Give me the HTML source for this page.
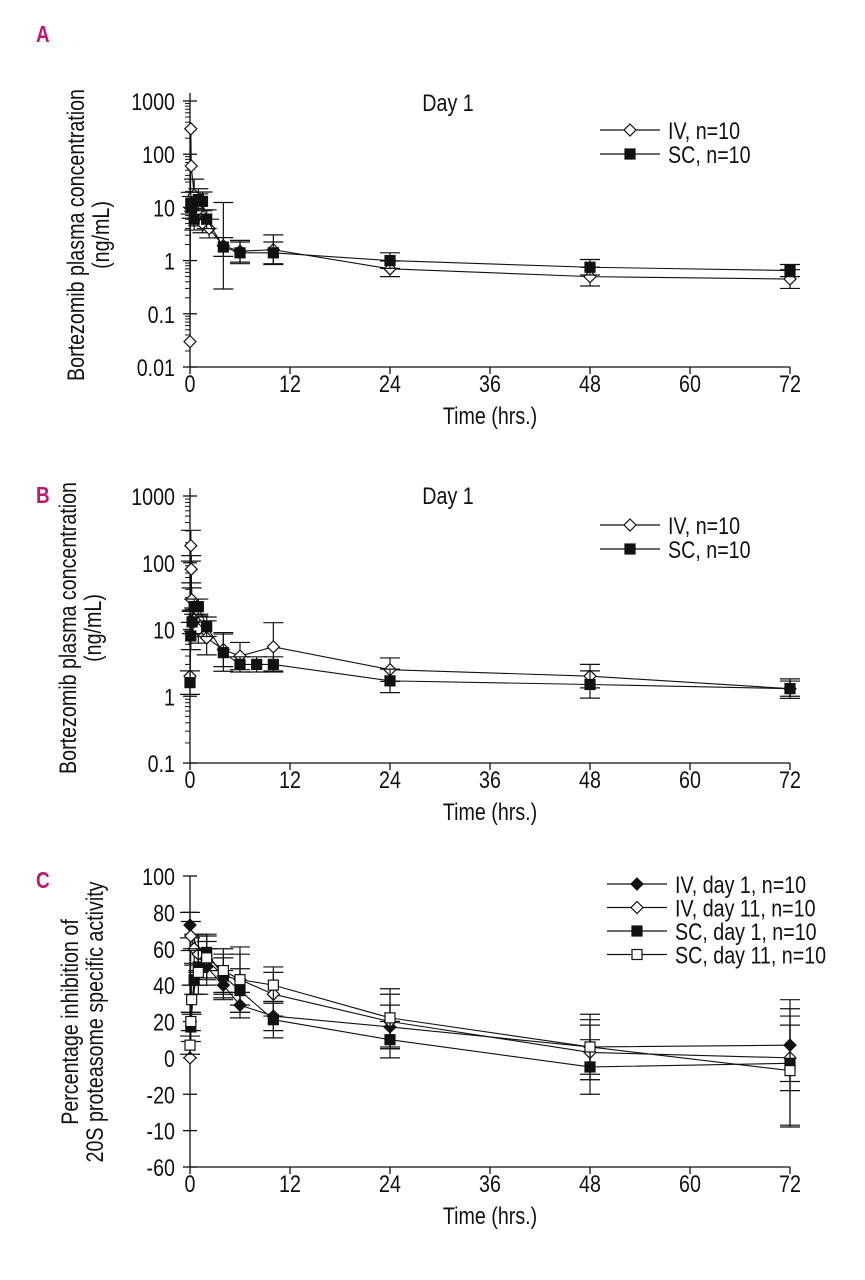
<!DOCTYPE html>
<html><head><meta charset="utf-8">
<style>
body{margin:0;background:#fff;}
svg{display:block;font-family:"Liberation Sans Narrow","Liberation Sans",sans-serif;}
</style></head>
<body>
<svg id="fig" width="865" height="1280" viewBox="0 0 865 1280" xmlns="http://www.w3.org/2000/svg"></svg>
<script>
// ---- Panel A data ----
const aIvT   = [0, 0.1, 0.15, 0.5, 1, 1.5, 2.3, 4, 6, 10, 24, 48, 72];
const aIvV   = [0.03, 300, 60, 17, 9, 5, 4, 1.9, 1.5, 1.6, 0.7, 0.5, 0.45];
const aIvE   = [0, 0, 0, 2, 2, 1.5, 1.5, 6.5, 1.6, 1.9, 1.4, 1.5, 1.5];
const aScT   = [0.1, 0.2, 0.5, 1, 1.5, 2, 4, 6, 10, 24, 48, 72];
const aScV   = [12, 10, 6, 14, 13, 6, 1.8, 1.4, 1.4, 1.0, 0.75, 0.65];
const aScE   = [1.6, 1.6, 1.6, 1.6, 1.5, 1.5, 1.5, 1.6, 1.6, 1.4, 1.4, 1.3];
// ---- Panel B data ----
const bIvT = [0, 0.1, 0.15, 0.2, 0.5, 1, 2, 4, 6, 10, 24, 48, 72];
const bIvV = [2, 180, 80, 28, 14, 10, 7.5, 5, 4, 5.5, 2.5, 2, 1.3];
const bIvE = [0, 1.7, 1.6, 1.5, 1.5, 1.6, 1.8, 1.8, 1.6, 2.3, 1.5, 1.5, 1.3];
const bScT = [0, 0.1, 0.25, 0.5, 1, 2, 4, 6, 8, 10, 24, 48, 72];
const bScV = [1.6, 8, 13, 22, 22, 11, 4.5, 3, 3, 3, 1.7, 1.5, 1.3];
const bScE = [1.5, 1.6, 1.5, 1.3, 1.3, 1.4, 1.9, 1.3, 1.3, 1.3, 1.5, 1.6, 1.4];
// ---- Panel C data ----
const cIvd1T  = [0, 1, 2, 4, 6, 10, 24, 48, 72];
const cIvd1V  = [73, 58, 50, 40, 29, 23, 17, 6, 7];
const cIvd1E  = [7, 10, 10, 8, 7, 8, 12, 15, 20];
const cIvd11T = [0, 0.1, 0.5, 1, 2, 4, 6, 10, 24, 48, 72];
const cIvd11V = [0, 67, 60, 57, 54, 45, 43, 35, 20, 3, 0];
const cIvd11E = [0, 8, 8, 10, 10, 12, 18, 12, 15, 15, 18];
const cScd1T  = [0.1, 0.5, 1, 2, 4, 6, 10, 24, 48, 72];
const cScd1V  = [17, 43, 50, 58, 45, 37, 21, 10, -5, -3];
const cScd1E  = [8, 8, 10, 10, 10, 12, 10, 10, 15, 35];
const cScd11T = [0, 0.1, 0.2, 1, 2, 4, 6, 10, 24, 48, 72];
const cScd11V = [7, 20, 32, 47, 55, 48, 43, 40, 22, 6, -7];
const cScd11E = [5, 5, 8, 12, 12, 12, 14, 10, 16, 18, 30];
const xTicks = [0, 12, 24, 36, 48, 60, 72];
const aYTicks = [0.01, 0.1, 1, 10, 100, 1000];
const bYTicks = [0.1, 1, 10, 100, 1000];
const cYTicks = [100, 80, 60, 40, 20, 0, -20, -40, -60];
const cYLabels = ["100", "80", "60", "40", "20", "0", "-20", "-10", "-60"];

const NS = "http://www.w3.org/2000/svg";
const svg = document.getElementById('fig');
const SX = 0.82;
function el(tag, attrs, parent) {
  const e = document.createElementNS(NS, tag);
  for (const k in attrs) e.setAttribute(k, attrs[k]);
  (parent || svg).appendChild(e);
  return e;
}
function txt(s, x, y, size, anchor, parent, fill) {
  const t = el('text', {x: 0, y: 0, transform: 'translate(' + x + ',' + y + ') scale(' + SX + ',1)', 'font-size': size, 'text-anchor': anchor || 'start', fill: fill || '#111'}, parent);
  t.textContent = s;
  return t;
}
const X0 = 190, X1 = 790;
const xs = t => X0 + (t / 72) * (X1 - X0);

function panel(name, letter, letterY, top, bottom, yFn, ticks, labels, logMinor, titleLines, titleCx, titleCy) {
  const g = el('g', {});
  
  
  const L = txt(letter, 36, letterY, 23, 'start', g, '#c0166b');
  L.setAttribute('font-weight', 'bold');
  
  
  const ax = el('g', {stroke: '#111', 'stroke-width': 1.3}, g);
  
  
  el('line', {x1: X0, y1: top, x2: X0, y2: bottom}, ax);
  el('line', {x1: X0, y1: bottom, x2: X1, y2: bottom}, ax);
  xTicks.forEach(t => {
    el('line', {x1: xs(t), y1: bottom, x2: xs(t), y2: bottom + 7}, ax);
    const lb = txt(String(t), xs(t), bottom + 25, 24, 'middle', g);
    
    
  });
  ticks.forEach((v, i) => {
    const y = yFn(v);
    el('line', {x1: X0 - 7, y1: y, x2: X0 + 7, y2: y}, ax);
    const lb = txt(labels[i], X0 - 15, y + 9, 24, 'end', g);
    
    
    if (logMinor && i < ticks.length - 1) {
      for (let m = 2; m < 10; m++) {
        const yy = yFn(v * m);
        el('line', {x1: X0 - 5, y1: yy, x2: X0, y2: yy, 'stroke-width': 1}, ax);
      }
    }
  });
  const xt = txt('Time (hrs.)', 490, bottom + 57, 24, 'middle', g);
  
  
  const yt = el('text', {'font-size': 24, 'text-anchor': 'middle', fill: '#111', transform: 'translate(' + titleCx + ',' + titleCy + ') rotate(-90) scale(' + SX + ',1)'}, g);
  
  
  titleLines.forEach((s, i) => {
    const ts = el('tspan', {x: 0, y: i * 25}, yt);
    ts.textContent = s;
  });
  return g;
}

function marker(g, type, x, y) {
  const s = 5;
  if (type === 'dOpen' || type === 'dFill')
    el('polygon', {points: `${x},${y-s-1} ${x+s+1},${y} ${x},${y+s+1} ${x-s-1},${y}`, fill: type === 'dFill' ? '#111' : '#fff', stroke: '#111', 'stroke-width': 1.2}, g);
  else
    el('rect', {x: x - s, y: y - s, width: 2 * s, height: 2 * s, fill: type === 'sFill' ? '#111' : '#fff', stroke: '#111', 'stroke-width': 1.2}, g);
}

function series(name, T, V, E, yFn, isLog, type) {
  const g = el('g', {});
  
  
  const pts = T.map((t, i) => [xs(t), yFn(V[i])]);
  el('polyline', {points: pts.map(p => p.join(',')).join(' '), fill: 'none', stroke: '#111', 'stroke-width': 1.1}, g);
  T.forEach((t, i) => {
    if (!E[i]) return;
    const x = xs(t);
    const hi = isLog ? yFn(V[i] * E[i]) : yFn(V[i] + E[i]);
    const lo = isLog ? yFn(V[i] / E[i]) : yFn(V[i] - E[i]);
    const eb = el('g', {stroke: '#111', 'stroke-width': 1.2}, g);
    
    
    el('line', {x1: x, y1: hi, x2: x, y2: lo}, eb);
    el('line', {x1: x - 10, y1: hi, x2: x + 10, y2: hi}, eb);
    el('line', {x1: x - 10, y1: lo, x2: x + 10, y2: lo}, eb);
  });
  pts.forEach(p => {
    const m = el('g', {}, g);
    
    
    marker(m, type, p[0], p[1]);
  });
}

function legend(name, x, y, entries, dy) {
  const g = el('g', {});
  
  
  entries.forEach((e, i) => {
    const yy = y + i * dy;
    const it = el('g', {}, g);
    
    
    el('line', {x1: x, y1: yy, x2: x + 60, y2: yy, stroke: '#111', 'stroke-width': 1.2}, it);
    marker(it, e[0], x + 30, yy);
    txt(e[1], x + 68, yy + 9, 24, 'start', it);
  });
}

// Panel A
const aTop = 101, aBot = 367;
const yA = v => aBot - (Math.log10(v) + 2) * (aBot - aTop) / 5;
panel('a', 'A', 42, aTop - 8, aBot, yA, aYTicks, ['0.01', '0.1', '1', '10', '100', '1000'], true,
  ['Bortezomib plasma concentration', '(ng/mL)'], 84, 235);
const dA = txt('Day 1', 448, 111, 24, 'middle');  
series('series-a-iv', aIvT, aIvV, aIvE, yA, true, 'dOpen');
series('series-a-sc', aScT, aScV, aScE, yA, true, 'sFill');
legend('legend-a', 600, 130, [['dOpen', 'IV, n=10'], ['sFill', 'SC, n=10']], 24);

// Panel B
const bTop = 496, bBot = 763;
const yB = v => bBot - (Math.log10(v) + 1) * (bBot - bTop) / 4;
panel('b', 'B', 503, bTop - 8, bBot, yB, bYTicks, ['0.1', '1', '10', '100', '1000'], true,
  ['Bortezomib plasma concentration', '(ng/mL)'], 76, 628);
const dB = txt('Day 1', 448, 504, 24, 'middle');  
series('series-b-iv', bIvT, bIvV, bIvE, yB, true, 'dOpen');
series('series-b-sc', bScT, bScV, bScE, yB, true, 'sFill');
legend('legend-b', 600, 525, [['dOpen', 'IV, n=10'], ['sFill', 'SC, n=10']], 24);

// Panel C
const cTop = 876, cBot = 1167;
const yC = v => cTop + (100 - v) * (cBot - cTop) / 160;
panel('c', 'C', 888, cTop, cBot, yC, cYTicks, cYLabels, false,
  ['Percentage inhibition of', '20S proteasome specific activity'], 78, 1022);
series('series-c-iv-day1', cIvd1T, cIvd1V, cIvd1E, yC, false, 'dFill');
series('series-c-iv-day11', cIvd11T, cIvd11V, cIvd11E, yC, false, 'dOpen');
series('series-c-sc-day1', cScd1T, cScd1V, cScd1E, yC, false, 'sFill');
series('series-c-sc-day11', cScd11T, cScd11V, cScd11E, yC, false, 'sOpen');
legend('legend-c', 607, 884, [['dFill', 'IV, day 1, n=10'], ['dOpen', 'IV, day 11, n=10'], ['sFill', 'SC, day 1, n=10'], ['sOpen', 'SC, day 11, n=10']], 23.5);
</script>
</body></html>
